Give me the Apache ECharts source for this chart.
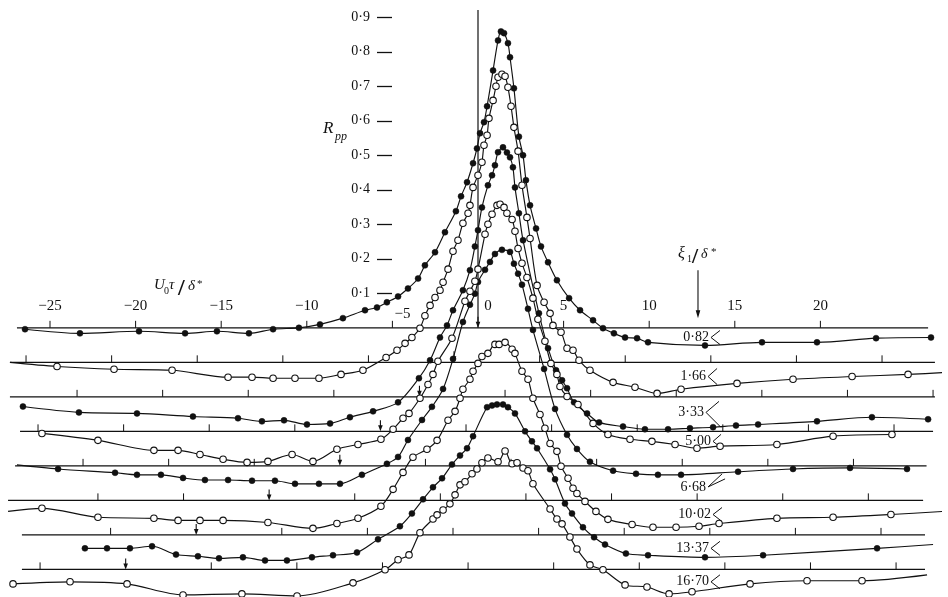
<!DOCTYPE html>
<html><head><meta charset="utf-8">
<script src="https://cdn.jsdelivr.net/npm/echarts@6/dist/echarts.min.js"></script>
<style>html,body{margin:0;padding:0;background:#fff;}#c{width:948px;height:597px;}</style>
</head><body><div id="c"></div>
<script>
// ---------------- data ----------------
// separation labels xi1/delta* for each curve (top to bottom)
const xiLabels = ['0·82', '1·66', '3·33', '5·00', '6·68', '10·02', '13·37', '16·70'];
// each successive curve is drawn 0.1 lower in R_pp
const offsetStep = 0.1;
// origin (arrow) of each curve's own time axis, in U0*tau/delta* units of the top axis
const originShift = [0, -1.4, -3.42, -5.7, -8.07, -12.2, -16.46, -20.58];
// horizontal extent of each baseline
const baselineSpan = [[-26.93, 26.29], [-27.34, 26.69], [-27.34, 26.69], [-26.75, 26.58],
                      [-27.04, 26.2], [-27.45, 26.0], [-26.64, 26.11], [-26.64, 26.11]];
const xTickValues = [-25, -20, -15, -10, -5, 0, 5, 10, 15, 20];
const yTickValues = [0.1, 0.2, 0.3, 0.4, 0.5, 0.6, 0.7, 0.8, 0.9];
const filledMarkers = [true, false, true, false, true, false, true, false];

// [U0 tau / delta*, R_pp]
const rpp082 = [[-26.46,-0.004],[-23.25,-0.016],[-19.8,-0.010],[-17.11,-0.016],[-15.25,-0.010],[-13.38,-0.016],[-11.97,-0.004],[-10.46,0.000],[-9.23,0.010],[-7.89,0.028],[-6.6,0.051],[-5.9,0.059],[-5.32,0.074],[-4.67,0.091],[-4.09,0.114],[-3.5,0.143],[-3.1,0.181],[-2.51,0.219],[-1.93,0.277],[-1.29,0.338],[-0.99,0.381],[-0.64,0.422],[-0.29,0.477],[-0.06,0.520],[0.12,0.564],[0.35,0.596],[0.53,0.642],[0.88,0.746],[1.17,0.833],[1.34,0.859],[1.52,0.854],[1.75,0.825],[1.87,0.784],[2.1,0.694],[2.39,0.554],[2.63,0.500],[2.8,0.428],[3.04,0.355],[3.39,0.288],[3.68,0.236],[4.09,0.190],[4.61,0.138],[5.32,0.086],[5.96,0.051],[6.72,0.022],[7.3,-0.001],[7.94,-0.016],[8.59,-0.028],[9.29,-0.030],[9.93,-0.042],[13.26,-0.051],[16.59,-0.042],[19.8,-0.042],[23.25,-0.030],[26.46,-0.028]];
const rpp166 = [[-24.59,-0.012],[-21.26,-0.020],[-17.87,-0.023],[-14.6,-0.043],[-13.2,-0.043],[-11.97,-0.046],[-10.69,-0.046],[-9.29,-0.046],[-8.0,-0.035],[-6.72,-0.023],[-5.37,0.014],[-4.73,0.035],[-4.26,0.055],[-3.86,0.072],[-3.39,0.099],[-3.1,0.135],[-2.8,0.165],[-2.51,0.188],[-2.22,0.209],[-2.04,0.232],[-1.75,0.270],[-1.46,0.322],[-1.17,0.354],[-0.88,0.403],[-0.58,0.432],[-0.47,0.455],[-0.29,0.507],[0,0.542],[0.23,0.580],[0.35,0.629],[0.53,0.658],[0.64,0.707],[0.88,0.759],[1.05,0.800],[1.17,0.826],[1.4,0.835],[1.58,0.829],[1.75,0.797],[1.93,0.742],[2.1,0.681],[2.34,0.612],[2.57,0.513],[2.86,0.420],[3.04,0.359],[3.45,0.223],[3.86,0.174],[4.21,0.142],[4.38,0.107],[4.85,0.087],[5.2,0.041],[5.55,0.035],[5.9,0.006],[6.54,-0.023],[7.89,-0.058],[9.17,-0.072],[10.46,-0.090],[11.86,-0.078],[15.13,-0.061],[18.4,-0.049],[21.85,-0.041],[25.12,-0.035]];
const rpp333 = [[-26.58,-0.028],[-23.31,-0.045],[-19.92,-0.048],[-16.65,-0.057],[-14.02,-0.062],[-12.62,-0.071],[-11.33,-0.068],[-9.99,-0.080],[-8.64,-0.077],[-7.48,-0.059],[-6.13,-0.042],[-4.67,-0.016],[-3.45,0.054],[-2.8,0.106],[-2.22,0.172],[-1.81,0.207],[-1.46,0.251],[-0.88,0.309],[-0.47,0.367],[-0.18,0.436],[0,0.483],[0.23,0.549],[0.58,0.613],[0.82,0.642],[0.99,0.671],[1.17,0.709],[1.46,0.723],[1.69,0.708],[1.87,0.694],[2.04,0.665],[2.16,0.607],[2.39,0.532],[2.63,0.454],[3.56,0.242],[4.09,0.141],[4.56,0.077],[4.91,0.048],[5.2,0.025],[5.61,-0.016],[6.37,-0.048],[7.07,-0.074],[8.47,-0.086],[9.75,-0.094],[11.1,-0.094],[12.38,-0.091],[13.73,-0.088],[15.07,-0.083],[16.36,-0.080],[19.8,-0.071],[23.01,-0.059],[26.29,-0.065]];
const rpp500 = [[-25.47,-0.006],[-22.2,-0.026],[-18.93,-0.055],[-17.52,-0.055],[-16.24,-0.067],[-14.89,-0.081],[-13.49,-0.090],[-12.27,-0.087],[-10.86,-0.067],[-9.64,-0.087],[-8.24,-0.052],[-7.01,-0.038],[-5.67,-0.023],[-4.96,0.006],[-4.38,0.038],[-4.03,0.052],[-3.39,0.096],[-2.92,0.136],[-2.63,0.165],[-2.34,0.203],[-1.52,0.270],[-0.76,0.377],[-0.47,0.406],[-0.18,0.435],[0,0.470],[0.41,0.571],[0.58,0.600],[0.82,0.629],[1.11,0.655],[1.29,0.658],[1.52,0.649],[1.69,0.632],[1.99,0.614],[2.16,0.580],[2.34,0.530],[2.57,0.487],[2.86,0.446],[3.21,0.386],[3.5,0.325],[3.91,0.261],[4.26,0.197],[4.61,0.165],[4.79,0.130],[5.2,0.101],[5.84,0.078],[6.72,0.023],[7.59,-0.009],[8.88,-0.023],[10.16,-0.029],[11.51,-0.038],[12.79,-0.049],[14.14,-0.043],[17.46,-0.038],[20.74,-0.014],[24.18,-0.009]];
const rpp668 = [[-24.53,-0.009],[-21.2,-0.020],[-19.92,-0.026],[-18.52,-0.026],[-17.23,-0.035],[-15.95,-0.041],[-14.6,-0.041],[-13.2,-0.043],[-11.86,-0.043],[-10.69,-0.052],[-9.29,-0.052],[-8.06,-0.052],[-6.78,-0.026],[-5.32,0.006],[-4.67,0.026],[-4.09,0.075],[-3.27,0.133],[-2.69,0.171],[-2.04,0.223],[-1.46,0.310],[-0.88,0.417],[-0.47,0.467],[-0.18,0.499],[0,0.533],[0.41,0.568],[0.7,0.591],[0.99,0.614],[1.4,0.626],[1.87,0.620],[2.1,0.586],[2.34,0.557],[2.57,0.525],[2.92,0.455],[3.21,0.394],[3.86,0.281],[4.5,0.165],[5.2,0.090],[5.78,0.049],[6.54,0.012],[7.89,-0.014],[9.23,-0.023],[10.51,-0.026],[11.86,-0.026],[15.19,-0.017],[18.4,-0.009],[21.73,-0.006],[25.06,-0.009]];
const rpp1002 = [[-25.47,-0.023],[-22.2,-0.049],[-18.93,-0.052],[-17.52,-0.058],[-16.24,-0.058],[-14.89,-0.058],[-12.27,-0.064],[-9.64,-0.081],[-8.24,-0.067],[-7.01,-0.052],[-5.67,-0.017],[-4.96,0.032],[-4.38,0.081],[-3.8,0.125],[-2.98,0.148],[-2.39,0.174],[-1.75,0.232],[-1.34,0.258],[-1.05,0.296],[-0.88,0.322],[-0.47,0.351],[-0.29,0.374],[0,0.397],[0.23,0.417],[0.58,0.426],[0.99,0.452],[1.23,0.452],[1.58,0.458],[1.99,0.438],[2.16,0.426],[2.57,0.374],[2.92,0.351],[3.21,0.296],[3.62,0.249],[3.91,0.209],[4.21,0.165],[4.61,0.142],[4.85,0.099],[5.26,0.064],[5.55,0.035],[5.78,0.020],[6.25,-0.003],[6.89,-0.032],[7.59,-0.055],[9.0,-0.070],[10.22,-0.078],[11.57,-0.078],[12.91,-0.075],[14.08,-0.067],[17.46,-0.052],[20.74,-0.049],[24.12,-0.041]];
const rpp1337 = [[-22.96,-0.039],[-21.67,-0.039],[-20.33,-0.039],[-19.04,-0.033],[-17.64,-0.057],[-16.36,-0.062],[-15.13,-0.068],[-13.73,-0.065],[-12.44,-0.074],[-11.16,-0.074],[-9.7,-0.065],[-8.47,-0.059],[-7.07,-0.051],[-5.84,-0.013],[-4.56,0.025],[-3.86,0.062],[-3.21,0.103],[-2.63,0.138],[-2.1,0.164],[-1.52,0.204],[-1.05,0.230],[-0.64,0.251],[-0.29,0.286],[0.53,0.370],[0.82,0.375],[1.11,0.378],[1.46,0.378],[1.75,0.370],[2.16,0.352],[2.75,0.300],[3.15,0.271],[3.45,0.251],[4.21,0.190],[4.5,0.161],[5.08,0.091],[5.49,0.062],[6.13,0.022],[6.78,-0.007],[7.42,-0.028],[8.64,-0.054],[9.93,-0.059],[13.26,-0.065],[16.65,-0.059],[23.31,-0.039]];
const rpp1670 = [[-27.16,-0.042],[-23.83,-0.036],[-20.5,-0.042],[-17.23,-0.074],[-13.79,-0.071],[-10.57,-0.077],[-7.3,-0.039],[-5.43,-0.001],[-4.67,0.028],[-4.03,0.042],[-3.39,0.106],[-2.63,0.146],[-2.39,0.158],[-2.04,0.172],[-1.64,0.190],[-1.34,0.216],[-1.05,0.245],[-0.76,0.254],[-0.35,0.277],[-0.06,0.291],[0.23,0.309],[0.58,0.323],[1.17,0.312],[1.58,0.343],[1.99,0.306],[2.28,0.309],[2.63,0.294],[2.92,0.286],[3.21,0.248],[4.21,0.175],[4.61,0.146],[4.91,0.132],[5.37,0.094],[5.78,0.059],[6.54,0.013],[7.3,-0.001],[8.59,-0.045],[9.87,-0.051],[11.16,-0.071],[12.5,-0.065],[15.89,-0.042],[19.22,-0.033],[22.43,-0.033]];
// where a drawn curve continues past its last marker: [left end, right end]
const curveEnds = [[null, null], [[-27.34, 0.0], [27.45, -0.029]], [null, null], [null, null],
                   [[-26.93, 0.003], null], [[-27.45, -0.032], [27.16, -0.032]], [null, [26.58, -0.028]], [null, [26.23, -0.016]]];
const curves = [rpp082, rpp166, rpp333, rpp500, rpp668, rpp1002, rpp1337, rpp1670];

// ---------------- layout (not data) ----------------
const INK = '#111';
const SERIF = '"Liberation Serif", "DejaVu Serif", serif';
// apex of the "<" connector of each curve label: [x units, y relative to its baseline]
const labelAnchor = [[13.55,-0.028],[13.38,-0.041],[13.26,-0.045],[13.67,-0.029],[13.38,-0.061],[13.67,-0.041],[13.55,-0.039],[13.55,-0.036]];
const labelArms = [[[10,-7],[10,7]],[[10,-8],[10,8]],[[14,-11],[16,15]],[[9,-7],[10,7]],[[15,-13],[18,-8]],[[10,-7],[10,7]],[[10,-7],[10,7]],[[10,-7],[10,7]]];

function fmtY(v) { return v.toFixed(1).replace('.', '·'); }
function fmtX(v) { return v < 0 ? '\u2212' + Math.abs(v) : String(v); }

const chart = echarts.init(document.getElementById('c'));

const lineSeries = curves.map((pts, k) => {
  const shift = -offsetStep * k;
  const data = pts.map(p => [p[0], +(p[1] + shift).toFixed(4)]);
  const ends = curveEnds[k];
  if (ends[0]) data.unshift({ value: [ends[0][0], ends[0][1] + shift], symbol: 'none' });
  if (ends[1]) data.push({ value: [ends[1][0], ends[1][1] + shift], symbol: 'none' });
  const filled = filledMarkers[k];
  return {
    type: 'line', xAxisIndex: 0, yAxisIndex: 0, data: data, smooth: 0.3,
    symbol: 'circle', symbolSize: filled ? 6 : 6.5, showSymbol: true, showAllSymbol: true,
    clip: false, z: filled ? 3 : 4,
    lineStyle: { color: INK, width: 1.15 },
    itemStyle: filled ? { color: INK, borderColor: INK, borderWidth: 0.5 } : { color: '#fff', borderColor: INK, borderWidth: 1.1 },
    emphasis: { disabled: true }, silent: true
  };
});

function txt(x, y, s, font, align, valign) {
  return { type: 'text', x: x, y: y, style: { text: s, fill: INK, font: font, align: align || 'center', verticalAlign: valign || 'middle' } };
}
function arrow(x, yTop, yTip, head) {
  const h = head || 6;
  return [
    { type: 'line', shape: { x1: x, y1: yTop, x2: x, y2: yTip - h + 1 }, style: { stroke: INK, lineWidth: 1.1 } },
    { type: 'polygon', shape: { points: [[x - 2.3, yTip - h], [x + 2.3, yTip - h], [x, yTip]] }, style: { fill: INK } }
  ];
}

const frameSeries = {
  type: 'custom', xAxisIndex: 0, yAxisIndex: 0, data: [[0, 0]], clip: false, silent: true, z: 1,
  renderItem: function (params, api) {
    const ch = [];
    // baselines, ticks, arrows
    for (let k = 0; k < curves.length; k++) {
      const base = -offsetStep * k;
      const span = baselineSpan[k];
      const a = api.coord([span[0], base]), b = api.coord([span[1], base]);
      ch.push({ type: 'line', shape: { x1: a[0], y1: a[1], x2: b[0], y2: b[1] }, style: { stroke: INK, lineWidth: 1.2 } });
      let ticks = [];
      if (k === 0) ticks = xTickValues.filter(v => v !== originShift[0]);
      else {
        const o = originShift[k];
        for (let t = o - 5 * Math.floor((o - span[0]) / 5); t <= span[1] + 0.01; t += 5) {
          if (Math.abs(t - o) > 0.01 && t > span[0] + 0.3) ticks.push(t);
        }
      }
      ticks.forEach(t => {
        const p = api.coord([t, base]);
        ch.push({ type: 'line', shape: { x1: p[0], y1: p[1], x2: p[0], y2: p[1] - 7 }, style: { stroke: INK, lineWidth: 1 } });
      });
      const o = api.coord([originShift[k], base]);
      arrow(o[0], o[1] - 11, o[1], 6).forEach(e => ch.push(e));
      // curve label
      const la = labelAnchor[k];
      const ap = api.coord([la[0], base + la[1]]);
      ch.push(txt(ap[0] - 1, ap[1], xiLabels[k], '14px ' + SERIF, 'right', 'middle'));
      const arms = labelArms[k];
      ch.push({ type: 'polyline', shape: { points: [[ap[0] + arms[0][0], ap[1] + arms[0][1]], [ap[0] + 1, ap[1]], [ap[0] + arms[1][0], ap[1] + arms[1][1]]] }, style: { stroke: INK, lineWidth: 1, fill: null } });
    }
    // R axis vertical line
    const v0 = api.coord([0, 0]), v1 = api.coord([0, 0.921]);
    ch.push({ type: 'line', shape: { x1: v0[0], y1: v0[1], x2: v1[0], y2: v1[1] }, style: { stroke: INK, lineWidth: 1.2 } });
    // x tick labels on top baseline
    xTickValues.forEach(v => {
      const p = api.coord([v, 0]);
      let dx = 0, dy = -22;
      if (v === 0) dx = 10;
      if (v === -5) { dx = 10; dy = -14; }
      ch.push(txt(p[0] + dx, p[1] + dy, fmtX(v), '15px ' + SERIF, 'center', 'middle'));
    });
    // axis title U0 tau / delta*
    const u = api.coord([-18.93, 0.101]);
    ch.push(txt(u[0], u[1], 'U', 'italic 15px ' + SERIF, 'left', 'bottom'));
    ch.push(txt(u[0] + 10, u[1] + 3, '0', '10px ' + SERIF, 'left', 'bottom'));
    ch.push(txt(u[0] + 15, u[1], 'τ', 'italic 15px ' + SERIF, 'left', 'bottom'));
    ch.push(txt(u[0] + 24, u[1] + 8, '/', 'bold 24px ' + SERIF, 'left', 'bottom'));
    ch.push(txt(u[0] + 34, u[1] + 1, 'δ', 'italic 15px ' + SERIF, 'left', 'bottom'));
    ch.push(txt(u[0] + 43, u[1] - 3, '*', '11px ' + SERIF, 'left', 'bottom'));
    // xi1 / delta* with arrow
    const q = api.coord([11.68, 0.191]);
    ch.push(txt(q[0], q[1], 'ξ', 'italic 16px ' + SERIF, 'left', 'bottom'));
    ch.push(txt(q[0] + 9, q[1] + 2, '1', '10px ' + SERIF, 'left', 'bottom'));
    ch.push(txt(q[0] + 14, q[1] + 6, '/', 'bold 22px ' + SERIF, 'left', 'bottom'));
    ch.push(txt(q[0] + 23, q[1] - 1, 'δ', 'italic 14px ' + SERIF, 'left', 'bottom'));
    ch.push(txt(q[0] + 33, q[1] - 4, '*', '11px ' + SERIF, 'left', 'bottom'));
    const xa = api.coord([12.85, 0.167]), xb = api.coord([12.85, 0.028]);
    arrow(xa[0], xa[1], xb[1], 8).forEach(e => ch.push(e));
    // R_pp
    const r = api.coord([-9.05, 0.553]);
    ch.push(txt(r[0], r[1], 'R', 'italic 17px ' + SERIF, 'left', 'bottom'));
    ch.push(txt(r[0] + 12, r[1] + 6, 'pp', 'italic 12px ' + SERIF, 'left', 'bottom'));
    return { type: 'group', children: ch };
  }
};

const option = {
  animation: false,
  backgroundColor: '#fff',
  grid: [
    { left: 7.2, top: 0, width: 933.04, height: 597 },
    { left: 392, top: 17.24, width: 1, height: 276.08 }
  ],
  xAxis: [
    { type: 'value', gridIndex: 0, min: -27.5, max: 27, show: false },
    { type: 'value', gridIndex: 1, min: 0, max: 1, show: false }
  ],
  yAxis: [
    { type: 'value', gridIndex: 0, min: -0.78, max: 0.95, show: false },
    { type: 'value', gridIndex: 1, min: 0.1, max: 0.9, interval: 0.1, position: 'left',
      axisLine: { show: false }, splitLine: { show: false },
      axisTick: { show: true, length: 15, inside: false, lineStyle: { color: INK, width: 1.3 } },
      axisLabel: { margin: 22, color: INK, fontFamily: SERIF, fontSize: 14, formatter: v => fmtY(v),
        customValues: yTickValues },
      }
  ],
  series: [frameSeries].concat(lineSeries)
};
chart.setOption(option);
</script>
</body></html>
